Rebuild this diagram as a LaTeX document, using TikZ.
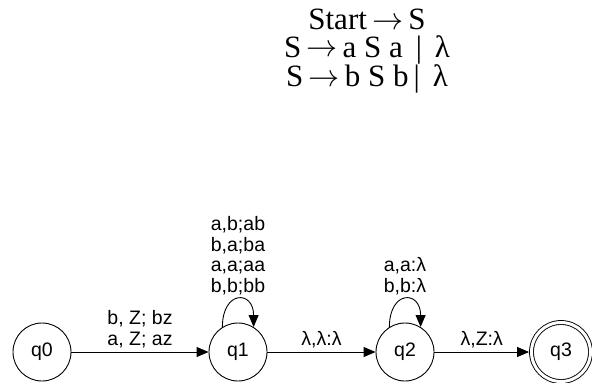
\documentclass[tikz,border=0pt]{standalone}
\usepackage{fontspec}
\setmainfont{Liberation Sans}
\newfontfamily\serifttl{Liberation Serif}
\usetikzlibrary{arrows.meta}
\newcommand{\ttlarrow}{\,\raisebox{0.5pt}{\scalebox{1.25}{$\rightarrow$}}\,}
\begin{document}
\begin{tikzpicture}[x=1pt,y=-1pt,
  state/.style={circle,draw,line width=0.9pt,minimum size=58pt,inner sep=0pt,font=\fontsize{19.5}{20}\selectfont},
  accept/.style={state,double,double distance=3pt,minimum size=59pt,outer sep=2.4pt},
  lbl/.style={font=\fontsize{19.5}{20.5}\selectfont,inner sep=0pt,align=center},
  trans/.style={line width=0.9pt,-{Triangle[length=12pt,width=10pt]}},
  ttl/.style={font=\serifttl\fontsize{31}{27.5}\selectfont,inner sep=0pt,align=center,anchor=north}]
\useasboundingbox (0,0) rectangle (592,383);
\node[ttl] (title) at (367,9) {Start\ttlarrow S\\ S\ttlarrow a S a \,|\, λ\\ S\ttlarrow b S b\,|\, λ};
\node[state] (q0) at (42,352) {q0};
\node[state] (q1) at (238,352) {q1};
\node[state] (q2) at (405,352) {q2};
\node[accept] (q3) at (561,352) {q3};
\draw[trans] (q0) -- node[lbl,above=4pt] {b, Z; bz\\a, Z; az} (q1);
\draw[trans] (q1) -- node[lbl,above=4pt] {λ,λ:λ} (q2);
\draw[trans] (q2) -- node[lbl,above=4pt] {λ,Z:λ} (q3);
\draw[trans] (q1.122) .. controls +(0,-37) and +(0,-37) .. node[lbl,above=4pt] {a,b;ab\\ b,a;ba\\ a,a;aa\\ b,b;bb} (q1.58);
\draw[trans] (q2.122) .. controls +(0,-37) and +(0,-37) .. node[lbl,above=4pt] {a,a:λ\\ b,b:λ} (q2.58);
\end{tikzpicture}
\end{document}
